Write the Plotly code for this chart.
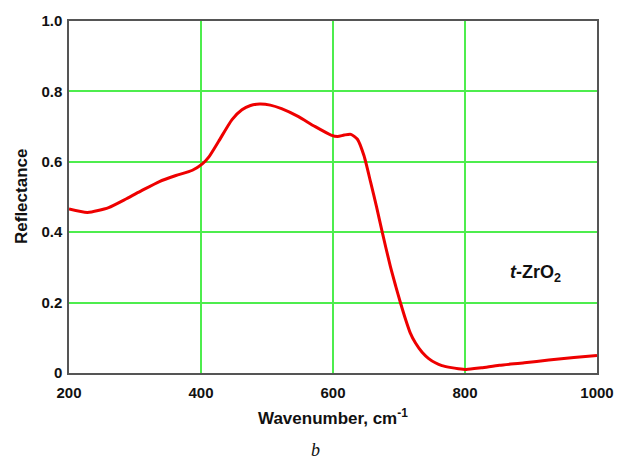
import plotly.graph_objects as go

wavenumber = [200, 228, 260, 287, 310, 337, 362, 387, 402, 412, 427, 447, 462, 475, 489, 505, 522, 547, 572, 597, 607, 617, 627, 637, 647, 657, 666, 674, 687, 695, 702, 710, 717, 725, 735, 745, 755, 765, 777, 790, 802, 825, 852, 890, 927, 965, 1000]
reflectance = [0.466, 0.456, 0.470, 0.495, 0.518, 0.544, 0.561, 0.576, 0.594, 0.614, 0.659, 0.720, 0.748, 0.760, 0.764, 0.761, 0.751, 0.729, 0.701, 0.676, 0.672, 0.676, 0.678, 0.664, 0.617, 0.542, 0.472, 0.405, 0.302, 0.247, 0.201, 0.152, 0.114, 0.085, 0.059, 0.041, 0.029, 0.021, 0.016, 0.012, 0.010, 0.015, 0.022, 0.029, 0.037, 0.044, 0.050]

x_ticks = [200, 400, 600, 800, 1000]
y_ticks = [0, 0.2, 0.4, 0.6, 0.8, 1.0]
y_ticktext = ["0", "0.2", "0.4", "0.6", "0.8", "1.0"]

font_bold = dict(family="Liberation Sans, Arial, sans-serif", size=15, color="#111111")

fig = go.Figure()
fig.add_trace(go.Scatter(
    x=wavenumber, y=reflectance, mode="lines",
    line=dict(color="#ee0000", width=3, shape="spline", smoothing=0.6),
    showlegend=False, hoverinfo="skip",
))

fig.update_layout(
    width=626, height=461,
    margin=dict(l=69, r=20, t=14, b=88),
    paper_bgcolor="white", plot_bgcolor="white",
    font=font_bold,
    xaxis=dict(
        range=[200, 1000], tickvals=x_ticks, ticktext=[f"<b>{v}</b>" for v in x_ticks],
        showgrid=True, gridcolor="#4ded4d", gridwidth=1.5,
        showline=True, linecolor="#555555", linewidth=1.5, mirror=True,
        ticks="", zeroline=False, ticklabelstandoff=5,
    ),
    yaxis=dict(
        range=[0, 1.0], tickvals=y_ticks, ticktext=[f"<b>{t}</b>" for t in y_ticktext],
        showgrid=True, gridcolor="#4ded4d", gridwidth=1.5,
        showline=True, linecolor="#555555", linewidth=1.5, mirror=True,
        ticks="", zeroline=False, ticklabelstandoff=2,
    ),
    annotations=[
        dict(text="<b>Wavenumber, cm<sup>-1</sup></b>", xref="paper", yref="paper",
             x=0.5, y=0, xanchor="center", yanchor="middle", yshift=-44,
             showarrow=False, font=dict(family="Liberation Sans, Arial, sans-serif", size=17, color="#111111")),
        dict(text="<b>Reflectance</b>", xref="paper", yref="paper",
             x=0, y=0.5, xanchor="center", yanchor="middle", xshift=-48, textangle=-90,
             showarrow=False, font=dict(family="Liberation Sans, Arial, sans-serif", size=17, color="#111111")),
        dict(text="<b><i>t</i>-ZrO<sub>2</sub></b>", xref="x", yref="y",
             x=907, y=0.284, xanchor="center", yanchor="middle",
             showarrow=False, font=dict(family="Liberation Sans, Arial, sans-serif", size=18, color="#111111")),
        dict(text="<i>b</i>", xref="paper", yref="paper",
             x=(318 - 69) / 533, y=0, xanchor="center", yanchor="middle", yshift=-77,
             showarrow=False, font=dict(family="Liberation Serif, Times New Roman, serif", size=18, color="#111111")),
    ],
)

fig.write_html("out.html")
